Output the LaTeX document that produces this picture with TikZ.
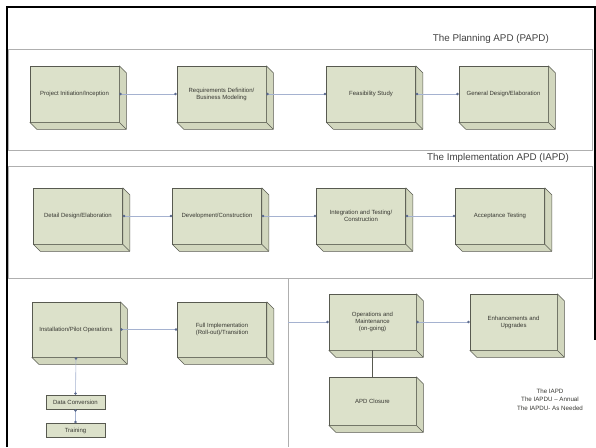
\documentclass[tikz,border=0pt]{standalone}
\usepackage{fontspec}
\setmainfont{Liberation Sans}
\usetikzlibrary{arrows.meta}

\definecolor{boxfill}{RGB}{220,225,202}
\definecolor{boxside}{RGB}{210,215,190}
\definecolor{boxline}{RGB}{88,90,80}
\definecolor{boxtext}{RGB}{55,55,50}
\definecolor{linkblue}{RGB}{165,178,208}
\definecolor{linkdot}{RGB}{90,105,140}
\definecolor{panelgray}{RGB}{175,175,175}

\tikzset{
  apdbox/.style={draw=boxline, fill=boxfill, line width=0.5pt,
    minimum width=89pt, minimum height=56pt, inner sep=1pt,
    align=center, text=boxtext, font=\fontsize{6}{7}\selectfont},
  smallbox/.style={apdbox, minimum width=59pt, minimum height=14pt},
  boxdepth/.style={draw=boxline, fill=boxside, line width=0.5pt, line join=round},
  link/.style={draw=linkblue, line width=0.6pt,
    {Circle[length=2.4pt, color=linkdot]}-{Circle[length=2.4pt, color=linkdot]}},
  feed/.style={draw=linkblue, line width=0.6pt, -{Circle[length=2.4pt, color=linkdot]}},
  panel/.style={draw=panelgray, line width=0.8pt},
  frame/.style={draw=black, line width=2.2pt},
  title/.style={text=black!75, inner sep=0pt, font=\fontsize{9.8}{11}\selectfont},
  note/.style={text=boxtext, align=center, inner sep=0pt, font=\fontsize{6.2}{8.4}\selectfont}
}

\begin{document}
\begin{tikzpicture}[x=1pt, y=-1pt]
  \useasboundingbox (0,0) rectangle (596,447);
  \draw[frame] (7,447) -- (7,7) -- (595,7) -- (595,340);
  \draw[panel] (8,49) rectangle (592,150);
  \draw[panel] (8,166) rectangle (592,278);
  \draw[panel] (288,278) -- (288,447);
  \node[title, anchor=east] (papd) at (549,39) {The Planning APD (PAPD)};
  \node[title, anchor=east] (iapd) at (569,158) {The Implementation APD (IAPD)};

  % planning
  \node[apdbox] (pi) at (74.5,94) {Project Initiation/Inception};
  \node[apdbox] (rd) at (221.5,94) {Requirements Definition/\\Business Modeling};
  \node[apdbox] (fs) at (371,94) {Feasibility Study};
  \node[apdbox] (gd) at (503.5,94) {General Design/Elaboration};

  % implementation
  \node[apdbox] (dd) at (78,216) {Detail Design/Elaboration};
  \node[apdbox] (dc) at (217,216) {Development/Construction};
  \node[apdbox] (it) at (361,216) {Integration and Testing/\\Construction};
  \node[apdbox] (at) at (500,216) {Acceptance Testing};

  \node[apdbox, minimum width=88pt, minimum height=55pt] (ip) at (76,329.5) {Installation/Pilot Operations};
  \node[apdbox, minimum height=55pt] (fi) at (222,329.5) {Full Implementation\\(Roll-out)/Transition};
  \node[smallbox] (cv) at (75.5,402) {Data Conversion};
  \node[smallbox] (tr) at (75.5,430.5) {Training};

  \node[apdbox, minimum width=87pt] (om) at (372.5,322) {Operations and\\Maintenance\\(on-going)};
  \node[apdbox, minimum width=87pt] (eu) at (513.5,322) {Enhancements and\\Upgrades};
  \node[apdbox, minimum width=87pt, minimum height=48pt] (cl) at (372.5,401) {APD Closure};
  \coordinate (in) at (288,322);

  \foreach \n in {pi,rd,fs,gd,dd,dc,it,at,ip,fi,om,eu,cl} {
    \draw[boxdepth] (\n.north east) -- ([shift={(7,7)}]\n.north east)
      -- ([shift={(7,7)}]\n.south east) -- ([shift={(7,7)}]\n.south west)
      -- (\n.south west) -- (\n.south east) -- cycle;
    \draw[boxdepth] (\n.south east) -- ([shift={(7,7)}]\n.south east);
  }

  \draw[link] (pi) -- (rd);
  \draw[link] (rd) -- (fs);
  \draw[link] (fs) -- (gd);
  \draw[link] (dd) -- (dc);
  \draw[link] (dc) -- (it);
  \draw[link] (it) -- (at);
  \draw[link] (ip) -- (fi);
  \draw[link] (ip.south) -- (cv.north);
  \draw[link] (cv) -- (tr);
  \draw[feed] (in) -- (om);
  \draw[link] (om) -- (eu);
  \draw[boxline, line width=0.6pt] (om.south) -- (cl.north);

  \node[note] (ver) at (550,399.5) {The IAPD\\The IAPDU -- Annual\\The IAPDU- As Needed};
\end{tikzpicture}
\end{document}
